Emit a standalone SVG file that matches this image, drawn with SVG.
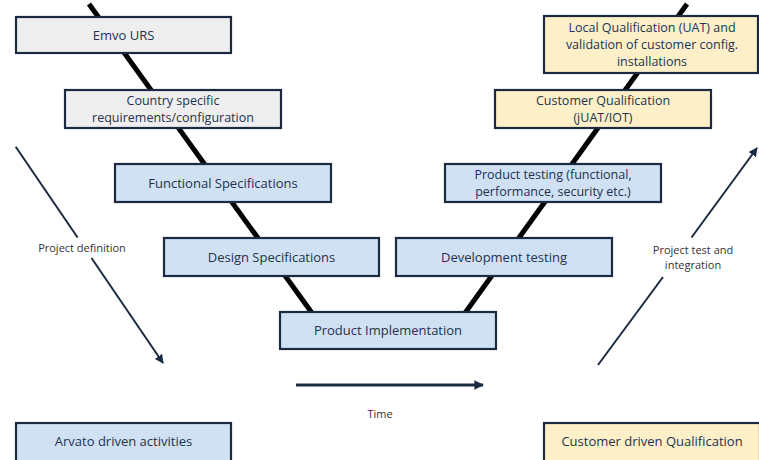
<svg xmlns="http://www.w3.org/2000/svg" width="759" height="460" viewBox="0 0 759 460">
<defs>
<style>
.box{stroke:#1b2a41;stroke-width:2.2}
.gray{fill:#eeeeee}
.blue{fill:#cfe1f3}
.yellow{fill:#fdf0c9}
.t{font-family:"Open Sans","Noto Sans",sans-serif;font-size:13px;fill:#24324f;text-anchor:middle}
.m{font-size:12.5px}
.lbl{font-family:"Open Sans","Noto Sans",sans-serif;font-size:11px;fill:#333333;text-anchor:middle}
.v{stroke:#000000;stroke-width:5;fill:none}
.arr{stroke:#1b2a41;stroke-width:2;fill:none}
</style>
<marker id="ah" viewBox="0 0 10 10" refX="9" refY="5" markerWidth="4.5" markerHeight="4.5" orient="auto" markerUnits="strokeWidth">
<path d="M0,0 L10,5 L0,10 z" fill="#1b2a41"/>
</marker>
<marker id="ah2" viewBox="0 0 10 10" refX="9" refY="5" markerWidth="3.2" markerHeight="3.2" orient="auto" markerUnits="strokeWidth">
<path d="M0,0 L10,5 L0,10 z" fill="#1b2a41"/>
</marker>
</defs>
<rect width="759" height="460" fill="#ffffff"/>
<g id="connectors">
<line class="v" x1="89" y1="4" x2="312" y2="313"/>
<line class="v" x1="687" y1="4" x2="465" y2="313"/>
<line class="arr" x1="15.7" y1="146.7" x2="77.6" y2="237.5"/>
<line class="arr" x1="91.5" y1="258" x2="163" y2="363" marker-end="url(#ah)"/>
<line class="arr" x1="598" y1="365" x2="663" y2="277"/>
<line class="arr" x1="691.5" y1="237.5" x2="757" y2="148" marker-end="url(#ah)"/>
<line class="arr" style="stroke-width:3" x1="296" y1="385" x2="483" y2="385" marker-end="url(#ah2)"/>
</g>
<g id="emvo-urs">
<rect class="box gray" x="16" y="17" width="215" height="36"/>
<text class="t" x="123.5" y="39.5">Emvo URS</text>
</g>
<g id="country-specific">
<rect class="box gray" x="65" y="90" width="216" height="38"/>
<text class="t m" x="173" y="104.9">Country specific</text>
<text class="t m" x="173" y="122">requirements/configuration</text>
</g>
<g id="functional-specifications">
<rect class="box blue" x="115" y="164" width="216" height="38"/>
<text class="t" x="223" y="187.5">Functional Specifications</text>
</g>
<g id="design-specifications">
<rect class="box blue" x="164" y="238" width="215" height="38"/>
<text class="t" x="271.5" y="261.5">Design Specifications</text>
</g>
<g id="product-implementation">
<rect class="box blue" x="280" y="312" width="216" height="37"/>
<text class="t" x="388" y="335">Product Implementation</text>
</g>
<g id="development-testing">
<rect class="box blue" x="396" y="238" width="216" height="38"/>
<text class="t" x="504" y="261.5">Development testing</text>
</g>
<g id="product-testing">
<rect class="box blue" x="445" y="164" width="216" height="38"/>
<text class="t m" x="553" y="178.9">Product testing (functional,</text>
<text class="t m" x="553" y="196">performance, security etc.)</text>
</g>
<g id="customer-qualification">
<rect class="box yellow" x="495" y="90" width="216" height="38"/>
<text class="t m" x="603" y="104.9">Customer Qualification</text>
<text class="t m" x="603" y="122">(jUAT/IOT)</text>
</g>
<g id="local-qualification">
<rect class="box yellow" x="544" y="16" width="214" height="57"/>
<text class="t m" x="652" y="31.8">Local Qualification (UAT) and</text>
<text class="t m" x="652" y="48.9">validation of customer config.</text>
<text class="t m" x="652" y="66">installations</text>
</g>
<g id="arvato-driven">
<rect class="box blue" x="16" y="423" width="215" height="45"/>
<text class="t" x="123.5" y="446">Arvato driven activities</text>
</g>
<g id="customer-driven">
<rect class="box yellow" x="544" y="423" width="216" height="45"/>
<text class="t" x="652" y="446">Customer driven Qualification</text>
</g>
<g id="labels">
<text class="lbl" x="82" y="252">Project definition</text>
<text class="lbl" x="693" y="253.7">Project test and</text>
<text class="lbl" x="693" y="268.7">integration</text>
<text class="lbl" x="380" y="418">Time</text>
</g>
</svg>
